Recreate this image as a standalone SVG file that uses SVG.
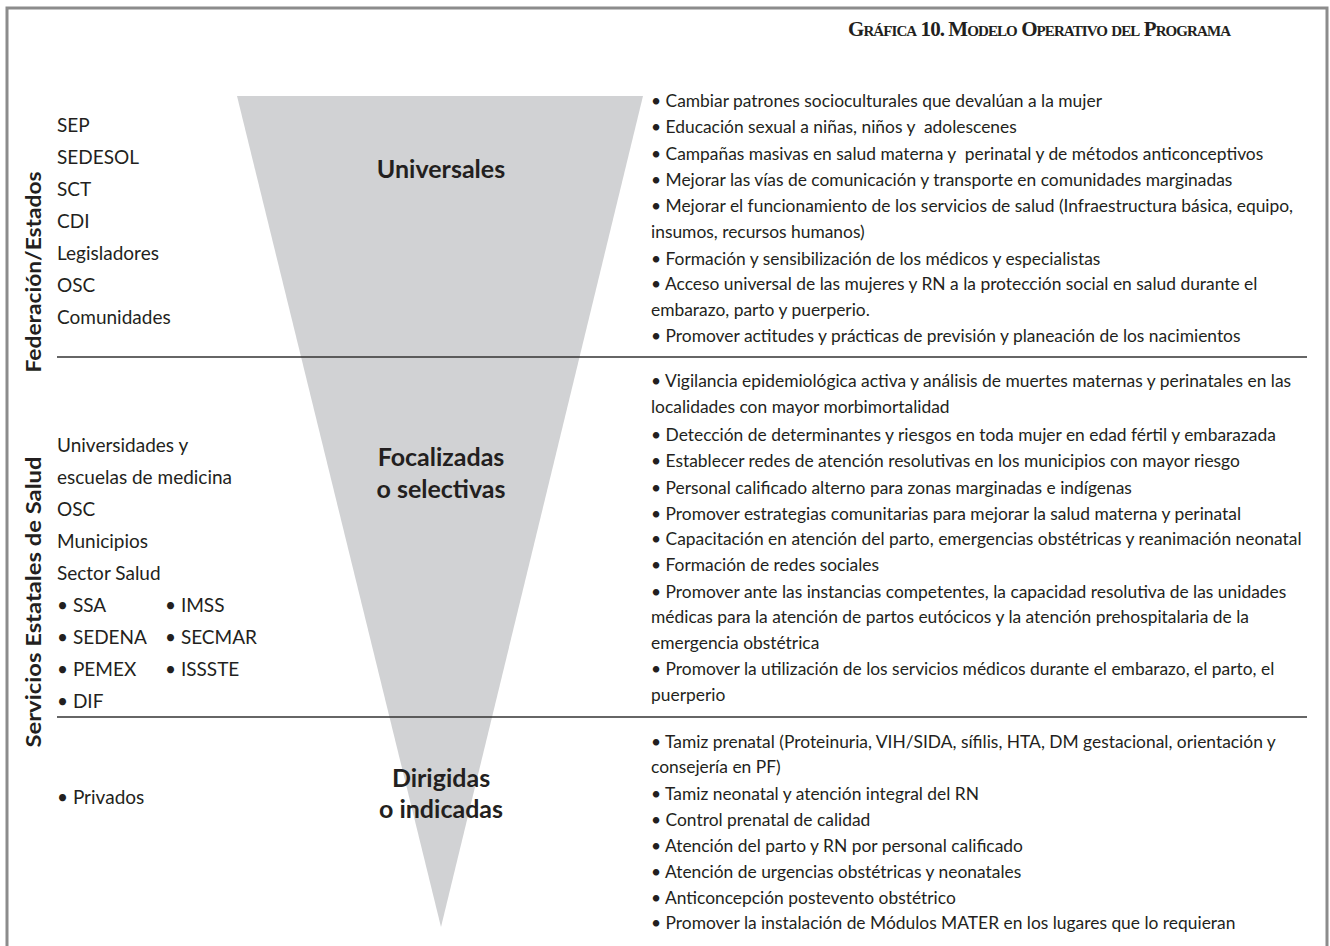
<svg xmlns="http://www.w3.org/2000/svg" width="1330" height="946" viewBox="0 0 1330 946">
<style>
.t{font-family:Lato,"Open Sans","Liberation Sans",sans-serif;font-size:17.4px;fill:#231f20;white-space:pre}
.l{font-family:Lato,"Open Sans","Liberation Sans",sans-serif;font-size:19px;fill:#231f20}
.b{font-family:Lato,"Open Sans","Liberation Sans",sans-serif;font-size:25px;font-weight:bold;fill:#231f20;text-anchor:middle}
.r{font-family:Lato,"Open Sans","Liberation Sans",sans-serif;font-size:21px;font-weight:bold;fill:#231f20;text-anchor:middle}
.title{font-family:"Liberation Serif",serif;font-size:21px;font-weight:bold;font-variant:small-caps;fill:#231f20;letter-spacing:1px}
.sep{stroke:#333;stroke-width:1.5}
</style>
<rect width="1330" height="946" fill="#fff"/>
<path d="M7,946 V8 H1327 V946" fill="none" stroke="#8c8c8c" stroke-width="3"/>
<text class="title" x="848" y="36" textLength="384" lengthAdjust="spacing">Gráfica 10. Modelo Operativo del Programa</text>
<g id="funnel"><polygon points="237,96 643,96 441,927" fill="#d1d2d4"/></g>
<g id="connectors">
<line class="sep" x1="57" y1="357" x2="1307" y2="357"/>
<line class="sep" x1="57" y1="717" x2="1307" y2="717"/>
</g>
<g id="label-federacion"><text class="r" transform="translate(41,272) rotate(-90)" textLength="201" lengthAdjust="spacingAndGlyphs">Federación/Estados</text></g>
<g id="label-servicios"><text class="r" transform="translate(41,602) rotate(-90)" textLength="291" lengthAdjust="spacingAndGlyphs">Servicios Estatales de Salud</text></g>
<g id="actors-1">
<text class="l" x="57" y="132">SEP</text>
<text class="l" x="57" y="164">SEDESOL</text>
<text class="l" x="57" y="196">SCT</text>
<text class="l" x="57" y="228">CDI</text>
<text class="l" x="57" y="260">Legisladores</text>
<text class="l" x="57" y="292">OSC</text>
<text class="l" x="57" y="324">Comunidades</text>
</g>
<g id="actors-2">
<text class="l" x="57" y="452">Universidades y</text>
<text class="l" x="57" y="484">escuelas de medicina</text>
<text class="l" x="57" y="516">OSC</text>
<text class="l" x="57" y="548">Municipios</text>
<text class="l" x="57" y="580">Sector Salud</text>
<text class="l" x="57" y="612">• SSA</text>
<text class="l" x="165" y="612">• IMSS</text>
<text class="l" x="57" y="644">• SEDENA</text>
<text class="l" x="165" y="644">• SECMAR</text>
<text class="l" x="57" y="676">• PEMEX</text>
<text class="l" x="165" y="676">• ISSSTE</text>
<text class="l" x="57" y="708">• DIF</text>
</g>
<g id="actors-3"><text class="l" x="57" y="804">• Privados</text></g>
<g id="level-universales"><text class="b" x="441" y="178">Universales</text></g>
<g id="level-focalizadas"><text class="b" x="441" y="466">Focalizadas</text><text class="b" x="441" y="498">o selectivas</text></g>
<g id="level-dirigidas"><text class="b" x="441" y="787">Dirigidas</text><text class="b" x="441" y="818">o indicadas</text></g>
<g id="actions-1">
<text class="t" x="651" y="107">• Cambiar patrones socioculturales que devalúan a la mujer</text>
<text class="t" x="651" y="133">• Educación sexual a niñas, niños y  adolescenes</text>
<text class="t" x="651" y="160">• Campañas masivas en salud materna y  perinatal y de métodos anticonceptivos</text>
<text class="t" x="651" y="186">• Mejorar las vías de comunicación y transporte en comunidades marginadas</text>
<text class="t" x="651" y="212">• Mejorar el funcionamiento de los servicios de salud (Infraestructura básica, equipo,</text>
<text class="t" x="651" y="238">insumos, recursos humanos)</text>
<text class="t" x="651" y="265">• Formación y sensibilización de los médicos y especialistas</text>
<text class="t" x="651" y="290">• Acceso universal de las mujeres y RN a la protección social en salud durante el</text>
<text class="t" x="651" y="316">embarazo, parto y puerperio.</text>
<text class="t" x="651" y="342">• Promover actitudes y prácticas de previsión y planeación de los nacimientos</text>
</g>
<g id="actions-2">
<text class="t" x="651" y="387">• Vigilancia epidemiológica activa y análisis de muertes maternas y perinatales en las</text>
<text class="t" x="651" y="413">localidades con mayor morbimortalidad</text>
<text class="t" x="651" y="441">• Detección de determinantes y riesgos en toda mujer en edad fértil y embarazada</text>
<text class="t" x="651" y="467">• Establecer redes de atención resolutivas en los municipios con mayor riesgo</text>
<text class="t" x="651" y="494">• Personal calificado alterno para zonas marginadas e indígenas</text>
<text class="t" x="651" y="520">• Promover estrategias comunitarias para mejorar la salud materna y perinatal</text>
<text class="t" x="651" y="545">• Capacitación en atención del parto, emergencias obstétricas y reanimación neonatal</text>
<text class="t" x="651" y="571">• Formación de redes sociales</text>
<text class="t" x="651" y="598">• Promover ante las instancias competentes, la capacidad resolutiva de las unidades</text>
<text class="t" x="651" y="623">médicas para la atención de partos eutócicos y la atención prehospitalaria de la</text>
<text class="t" x="651" y="649">emergencia obstétrica</text>
<text class="t" x="651" y="675">• Promover la utilización de los servicios médicos durante el embarazo, el parto, el</text>
<text class="t" x="651" y="701">puerperio</text>
</g>
<g id="actions-3">
<text class="t" x="651" y="748">• Tamiz prenatal (Proteinuria, VIH/SIDA, sífilis, HTA, DM gestacional, orientación y</text>
<text class="t" x="651" y="773">consejería en PF)</text>
<text class="t" x="651" y="800">• Tamiz neonatal y atención integral del RN</text>
<text class="t" x="651" y="826">• Control prenatal de calidad</text>
<text class="t" x="651" y="852">• Atención del parto y RN por personal calificado</text>
<text class="t" x="651" y="878">• Atención de urgencias obstétricas y neonatales</text>
<text class="t" x="651" y="904">• Anticoncepción postevento obstétrico</text>
<text class="t" x="651" y="929">• Promover la instalación de Módulos MATER en los lugares que lo requieran</text>
</g>
</svg>
